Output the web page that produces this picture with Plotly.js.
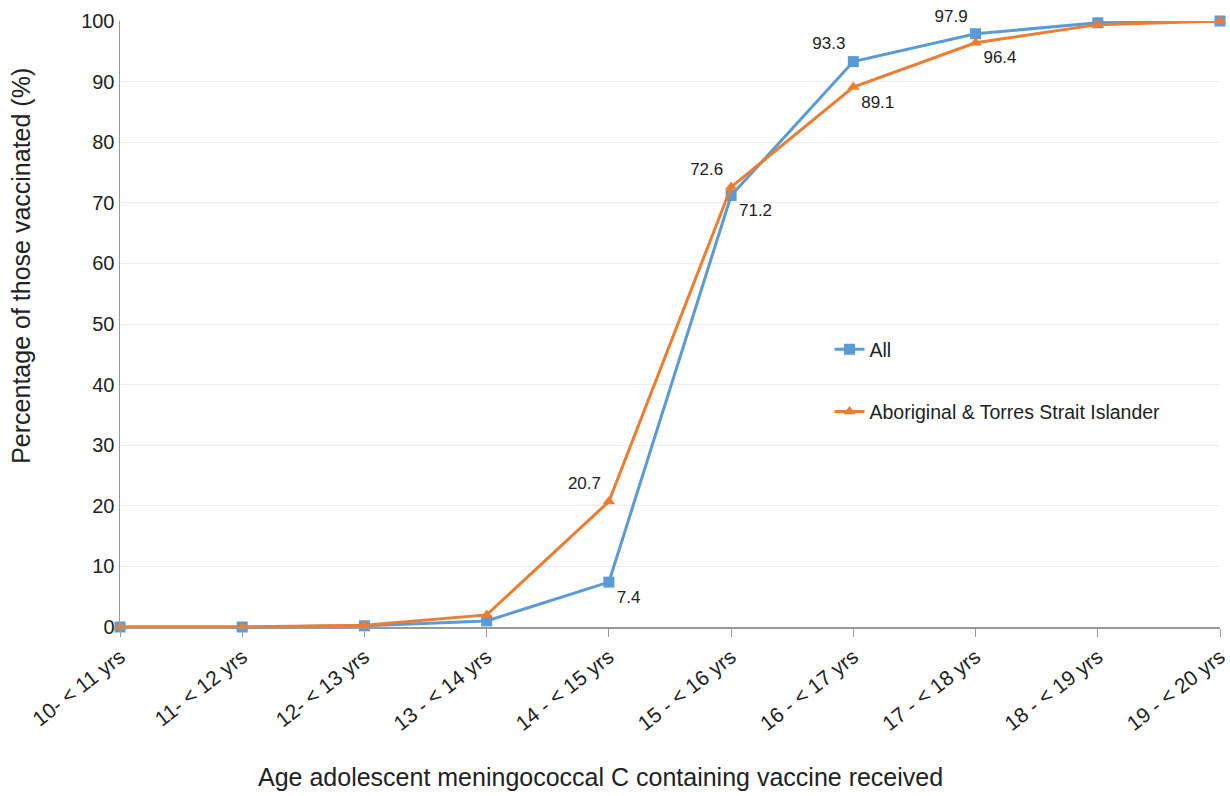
<!DOCTYPE html>
<html>
<head>
<meta charset="utf-8">
<script src="https://cdn.plot.ly/plotly-3.0.1.min.js"></script>
<style>html,body{margin:0;padding:0;background:#fff;}#chart{width:1230px;height:796px;}</style>
</head>
<body>
<div id="chart"></div>
<script>
const categories = ["10- < 11 yrs","11- < 12 yrs","12- < 13 yrs","13 - < 14 yrs","14 - < 15 yrs","15 - < 16 yrs","16 - < 17 yrs","17 - < 18 yrs","18 - < 19 yrs","19 - < 20 yrs"];
const allValues = [0, 0, 0.2, 1.0, 7.4, 71.2, 93.3, 97.9, 99.7, 100];
const atsiValues = [0, 0, 0.3, 2.0, 20.7, 72.6, 89.1, 96.4, 99.4, 100];
const allLabels = ["", "", "", "", "7.4", "71.2", "93.3", "97.9", "", ""];
const atsiLabels = ["", "", "", "", "20.7", "72.6", "89.1", "96.4", "", ""];
const allLabelPos = ["top center","top center","top center","top center","bottom right","bottom right","top left","top left","top center","top center"];
const atsiLabelPos = ["top center","top center","top center","top center","top left","top left","bottom right","bottom right","top center","top center"];

const font = "Liberation Sans, Arial, sans-serif";

const traces = [
  {
    x: categories, y: allValues, name: "All", type: "scatter", mode: "lines+markers+text",
    line: {color: "#5B9BD5", width: 3},
    marker: {symbol: "square", size: 11, color: "#5B9BD5"},
    text: allLabels, textposition: allLabelPos,
    textfont: {family: font, size: 17, color: "#222"},
    legendgroup: "a", cliponaxis: false
  },
  {
    x: categories, y: atsiValues, name: "Aboriginal & Torres Strait Islander", type: "scatter", mode: "lines+markers+text",
    line: {color: "#ED7D31", width: 3},
    marker: {symbol: "triangle-up", size: 11, color: "#ED7D31"},
    text: atsiLabels, textposition: atsiLabelPos,
    textfont: {family: font, size: 17, color: "#222"},
    legendgroup: "b", cliponaxis: false
  }
];

const layout = {
  width: 1230, height: 796,
  margin: {l: 120, r: 10, t: 21, b: 169},
  paper_bgcolor: "#fff", plot_bgcolor: "#fff",
  font: {family: font, size: 20, color: "#222"},
  showlegend: true,
  legend: {x: 0.645, y: 0.49, xanchor: "left", yanchor: "top", bgcolor: "rgba(0,0,0,0)",
           font: {family: font, size: 19.5, color: "#222"}, tracegroupgap: 34, itemwidth: 30},
  xaxis: {
    type: "category", range: [0, 9], tickangle: -38,
    showline: true, linecolor: "#999", linewidth: 1.5,
    ticks: "outside", ticklen: 8, tickcolor: "#999",
    showgrid: false, zeroline: false,
    tickfont: {family: font, size: 21, color: "#222"}
  },
  yaxis: {
    range: [0, 100], dtick: 10, tick0: 0,
    showline: true, linecolor: "#999", linewidth: 1.5,
    gridcolor: "#ececec", gridwidth: 1, zeroline: false,
    ticks: "", ticklen: 0,
    tickfont: {family: font, size: 20, color: "#222"}
  },
  annotations: [
    {text: "Age adolescent meningococcal C containing vaccine received", xref: "paper", yref: "paper",
     x: 0.437, y: -0.248, xanchor: "center", yanchor: "middle", showarrow: false,
     font: {family: font, size: 25, color: "#222"}},
    {text: "Percentage of those vaccinated (%)", xref: "paper", yref: "paper",
     x: -0.09, y: 0.596, xanchor: "center", yanchor: "middle", textangle: -90, showarrow: false,
     font: {family: font, size: 25, color: "#222"}}
  ]
};

Plotly.newPlot("chart", traces, layout, {displayModeBar: false, staticPlot: true});
</script>
</body>
</html>
